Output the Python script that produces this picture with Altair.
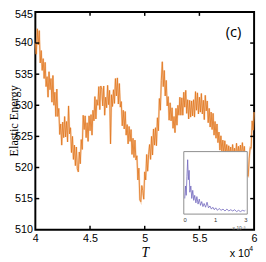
import altair as alt
import numpy as np
import pandas as pd

# Main trace: elastic energy vs T (~1px sampling)
energy = [
    540.0, 538.2, 542.3, 539.7, 542.0, 536.8, 538.8, 535.6, 537.5, 534.3,
    536.9, 533.0, 534.6, 531.3, 535.4, 532.5, 534.3, 530.5, 534.8, 530.0,
    532.1, 528.2, 532.6, 528.2, 529.5, 525.3, 527.0, 523.6, 527.3, 524.8,
    528.2, 524.9, 527.4, 524.1, 529.9, 525.4, 526.4, 522.4, 525.0, 521.3,
    523.6, 520.3, 523.3, 519.8, 519.3, 522.5, 520.6, 524.5, 522.9, 528.4,
    526.1, 528.3, 524.8, 527.2, 524.2, 528.3, 525.9, 528.5, 525.2, 529.2,
    527.5, 531.4, 527.8, 530.9, 530.0, 533.0, 529.3, 533.1, 532.6, 529.9,
    533.1, 528.4, 531.3, 529.6, 533.2, 530.1, 532.4, 523.8, 531.7, 529.8,
    532.5, 530.3, 534.3, 531.5, 534.4, 530.2, 533.5, 529.7, 530.6, 526.7,
    529.2, 526.2, 529.0, 525.2, 526.9, 523.8, 526.6, 524.2, 526.1, 522.1,
    524.7, 521.6, 524.4, 521.2, 521.9, 518.0, 519.9, 514.8, 514.5, 517.1,
    516.3, 514.9, 519.3, 518.0, 522.1, 519.4, 522.1, 523.7, 521.3, 525.0,
    522.0, 526.2, 523.6, 526.4, 523.5, 528.0, 525.9, 531.1, 529.2, 534.0,
    537.0, 533.0, 535.6, 531.5, 534.0, 529.9, 531.4, 527.6, 530.4, 527.5,
    529.6, 526.3, 528.2, 525.6, 529.5, 526.8, 530.0, 528.4, 531.3, 528.4,
    531.2, 528.4, 532.1, 529.7, 532.4, 528.7, 530.9, 527.8, 530.8, 528.1,
    530.7, 528.3, 530.9, 528.1, 532.2, 529.2, 532.0, 528.6, 531.3, 528.9,
    531.9, 528.6, 530.8, 527.7, 531.6, 529.1, 530.7, 527.2, 529.5, 526.5,
    528.9, 526.1, 528.7, 525.2, 527.4, 524.7, 527.0, 524.0, 525.7, 522.8,
    525.1, 522.6, 524.4, 522.2, 524.3, 522.2, 523.7, 521.7, 523.5, 521.9,
    523.3, 521.6, 523.7, 521.8, 523.1, 521.5, 523.9, 521.7, 523.4, 521.9,
    523.6, 521.7, 524.0, 522.0, 523.4, 520.7, 521.7, 518.7, 518.6, 521.5,
    523.2, 523.1, 527.5, 526.0, 528.9,
]
T = np.linspace(40000, 60000, len(energy))

x_ticks = [40000, 45000, 50000, 55000, 60000]
y_ticks = [510, 515, 520, 525, 530, 535, 540, 545]

# Inset spectrum
inset_x = [0.00, 0.03, 0.06, 0.09, 0.12, 0.15, 0.18, 0.21, 0.25, 0.29,
           0.33, 0.37, 0.41, 0.46, 0.50, 0.55, 0.60, 0.65, 0.70, 0.75,
           0.80, 0.86, 0.92, 0.98, 1.04, 1.10, 1.16, 1.22, 1.28, 1.35,
           1.42, 1.50, 1.58, 1.66, 1.74, 1.82, 1.90, 1.98, 2.06, 2.14,
           2.22, 2.30, 2.38, 2.46, 2.50]
inset_y = [0.25, 0.45, 0.30, 0.60, 0.87, 0.55, 0.70, 0.35, 0.45, 0.25,
           0.38, 0.22, 0.30, 0.18, 0.28, 0.16, 0.24, 0.14, 0.20, 0.12,
           0.17, 0.11, 0.19, 0.10, 0.13, 0.08, 0.11, 0.07, 0.10, 0.06,
           0.09, 0.06, 0.08, 0.05, 0.08, 0.05, 0.07, 0.05, 0.07, 0.04,
           0.06, 0.04, 0.06, 0.05, 0.06]
inset_ticks = [0, 1.25, 2.5]

main_df = pd.DataFrame({"T": T, "E": energy})
inset_df = pd.DataFrame({"f": inset_x, "p": inset_y})

XS = alt.Scale(domain=[40000, 60000], nice=False, zero=False)
YS = alt.Scale(domain=[510, 545], nice=False, zero=False)

x_axis = alt.Axis(values=x_ticks, labelExpr="'' + datum.value/10000",
                  labelFont="Liberation Sans", labelFontSize=11, labelColor="black",
                  labelPadding=3, labelFlush=False, labelOverlap=False,
                  ticks=False, domain=False, grid=False,
                  title="T", titleFont="Liberation Serif", titleFontStyle="italic",
                  titleFontWeight="normal", titleFontSize=14, titleColor="black",
                  titleY=27, titleBaseline="alphabetic")
y_axis = alt.Axis(values=y_ticks, labelFont="Liberation Sans", labelFontSize=11,
                  labelColor="black", labelPadding=3, labelFlush=False,
                  labelOverlap=False, ticks=False, domain=False, grid=False,
                  labelOffset={"condition": {"test": "datum.value == 545", "value": 3},
                               "value": 0},
                  title="Elastic Energy", titleFont="Liberation Serif",
                  titleFontWeight="normal", titleFontSize=12.5, titleColor="black",
                  titleAngle=270, titleX=-28, titleY=111, titleBaseline="top",
                  titleAlign="center")

halo = alt.Chart(main_df).mark_line(color="#f3b27c", strokeWidth=2.0, opacity=0.55).encode(
    x=alt.X("T:Q", scale=XS, axis=x_axis),
    y=alt.Y("E:Q", scale=YS, axis=y_axis),
)
core = alt.Chart(main_df).mark_line(color="#e0741c", strokeWidth=0.8).encode(
    x=alt.X("T:Q", scale=XS, axis=x_axis),
    y=alt.Y("E:Q", scale=YS, axis=y_axis),
)

inner_x = [45000, 50000, 55000]
inner_y = [515, 520, 525, 530, 535, 540]
xt_df = pd.DataFrame({"T": inner_x})
yt_df = pd.DataFrame({"E": inner_y})

tick_bottom = alt.Chart(xt_df).mark_rule(color="black", strokeWidth=1.5).encode(
    x=alt.X("T:Q", scale=XS, axis=x_axis),
    y=alt.value(223), y2=alt.value(219))
tick_top = alt.Chart(xt_df).mark_rule(color="black", strokeWidth=1.5).encode(
    x=alt.X("T:Q", scale=XS, axis=x_axis),
    y=alt.value(0), y2=alt.value(4))
tick_left = alt.Chart(yt_df).mark_rule(color="black", strokeWidth=1.5).encode(
    y=alt.Y("E:Q", scale=YS, axis=y_axis),
    x=alt.value(0), x2=alt.value(4))
tick_right = alt.Chart(yt_df).mark_rule(color="black", strokeWidth=1.5).encode(
    y=alt.Y("E:Q", scale=YS, axis=y_axis),
    x=alt.value(224), x2=alt.value(220))

inset_frame = alt.Chart().mark_rect(fill="white", stroke="#8c8c8c", strokeWidth=1).encode(
    x=alt.value(152), x2=alt.value(217), y=alt.value(143), y2=alt.value(207))

label_c = alt.Chart().mark_text(text="(c)", font="Open Sans", fontSize=15,
                                color="black", align="center", baseline="middle").encode(
    x=alt.value(203), y=alt.value(21))
mult = alt.Chart().mark_text(text="x 10", font="Liberation Sans", fontSize=11,
                             color="black", align="left", baseline="alphabetic").encode(
    x=alt.value(199), y=alt.value(251))
mult_exp = alt.Chart().mark_text(text="4", font="Liberation Sans", fontSize=7,
                                 color="black", align="left", baseline="middle").encode(
    x=alt.value(219), y=alt.value(243))
inset_mult = alt.Chart().mark_text(text="x 10⁻³", font="Liberation Sans", fontSize=5,
                                   color="#555555", align="left", baseline="middle").encode(
    x=alt.value(202), y=alt.value(221))

main_group = alt.layer(halo, core, tick_bottom, tick_top, tick_left, tick_right,
                       inset_frame, label_c, mult, mult_exp, inset_mult)

inset = alt.Chart(inset_df).mark_line(color="#7168bd", strokeWidth=0.9, opacity=0.9).encode(
    x=alt.X("f:Q", scale=alt.Scale(domain=[0, 2.5], range=[153, 215], nice=False, zero=False),
            axis=alt.Axis(orient="bottom", offset=-16, values=inset_ticks,
                          labelFont="Liberation Sans", labelFontSize=6,
                          labelColor="#333333", labelPadding=3, labelFlush=False,
                          labelOverlap=False, ticks=False, domain=False, grid=False,
                          title=None)),
    y=alt.Y("p:Q", scale=alt.Scale(domain=[0, 1], range=[207, 143], nice=False, zero=False),
            axis=None),
)

chart = alt.layer(main_group, inset).resolve_scale(
    x="independent", y="independent"
).properties(
    width=224, height=223, autosize="none",
    padding={"left": 28, "top": 1, "right": 4, "bottom": 30},
).configure_view(stroke="black", strokeWidth=2)

chart.save("out.html", embed_options={"renderer": "svg", "actions": False})
